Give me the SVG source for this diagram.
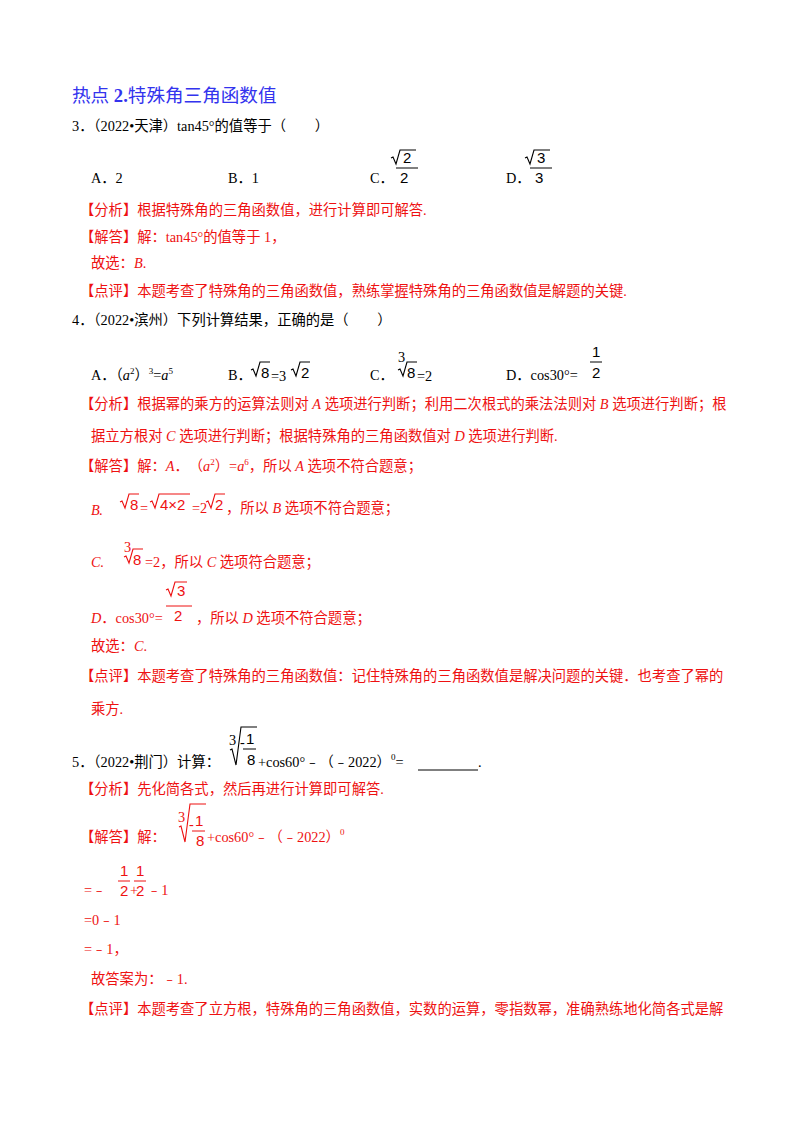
<svg xmlns="http://www.w3.org/2000/svg" width="800" height="1132" viewBox="0 0 800 1132">
<style>
text{font-family:"Liberation Serif","Noto Sans CJK SC",serif;font-size:14.3px;fill:#000}
.t{font-size:18.6px;fill:#3333ee}
.r{fill:#ee1111}
.i{font-style:italic}
.s{font-size:9px}
.f{font-family:"Liberation Sans",sans-serif;font-size:15px}
.rad{fill:none;stroke:#000;stroke-width:1.1}
.radr{fill:none;stroke:#ee1111;stroke-width:1.1}
.bar{stroke:#000;stroke-width:1}
.barr{stroke:#ee1111;stroke-width:1}
</style>
<rect width="800" height="1132" fill="#fff"/>
<text class="t" x="72" y="102">热点 <tspan font-weight="bold">2.</tspan>特殊角三角函数值</text>

<text x="72" y="131">3．（2022•天津）tan45°的值等于（　　）</text>
<text x="91" y="183">A．2</text>
<text x="228" y="183">B．1</text>
<text x="370" y="183">C．</text>
<path class="rad" d="M391 158 l2 -1 l3 7 l4 -14 h16"/><text class="f" x="403" y="163">2</text>
<line class="bar" x1="396" y1="168" x2="418" y2="168"/><text class="f" x="400" y="183">2</text>
<text x="506" y="183">D．</text>
<path class="rad" d="M525 158 l2 -1 l3 7 l4 -14 h16"/><text class="f" x="537" y="163">3</text>
<line class="bar" x1="530" y1="168" x2="552" y2="168"/><text class="f" x="535" y="183">3</text>

<text class="r" x="80" y="215">【分析】根据特殊角的三角函数值，进行计算即可解答.</text>
<text class="r" x="80" y="242">【解答】解：tan45°的值等于 1，</text>
<text class="r" x="91" y="268">故选：<tspan class="i">B</tspan>.</text>
<text class="r" x="80" y="296">【点评】本题考查了特殊角的三角函数值，熟练掌握特殊角的三角函数值是解题的关键.</text>

<text x="72" y="325">4．（2022•滨州）下列计算结果，正确的是（　　）</text>
<text x="91" y="380">A．（<tspan class="i">a</tspan><tspan class="s" dy="-6">2</tspan><tspan dy="6">）</tspan><tspan class="s" dy="-6">3</tspan><tspan dy="6">=</tspan><tspan class="i">a</tspan><tspan class="s" dy="-6">5</tspan></text>
<text x="228" y="380">B．</text>
<path class="rad" d="M251 370 l2 -1 l3 7 l4 -14 h10"/><text class="f" x="261" y="378">8</text>
<text x="271" y="381">=3</text>
<path class="rad" d="M291 370 l2 -1 l3 7 l4 -14 h10"/><text class="f" x="301" y="378">2</text>
<text x="370" y="380">C．</text>
<text x="398" y="362" font-size="9">3</text>
<path class="rad" d="M398 370 l2 -1 l3 7 l4 -14 h10"/><text class="f" x="407" y="378">8</text>
<text x="417" y="381">=2</text>
<text x="506" y="380">D．cos30°=</text>
<text class="f" x="592" y="357">1</text><line class="bar" x1="590" y1="362" x2="602" y2="362"/><text class="f" x="592" y="378">2</text>

<text class="r" x="80" y="409">【分析】根据幂的乘方的运算法则对 <tspan class="i">A</tspan> 选项进行判断；利用二次根式的乘法法则对 <tspan class="i">B</tspan> 选项进行判断；根</text>
<text class="r" x="91" y="441">据立方根对 <tspan class="i">C</tspan> 选项进行判断；根据特殊角的三角函数值对 <tspan class="i">D</tspan> 选项进行判断.</text>
<text class="r" x="80" y="471">【解答】解：<tspan class="i">A</tspan>．　（<tspan class="i">a</tspan><tspan class="s" dy="-6">2</tspan><tspan dy="6">）=</tspan><tspan class="i">a</tspan><tspan class="s" dy="-6">6</tspan><tspan dy="6">，所以 </tspan><tspan class="i">A</tspan> 选项不符合题意；</text>
<text class="r i" x="91" y="515">B</text><text class="r" x="99" y="515">.</text>
<path class="radr" d="M120 502 l2 -1 l3 7 l4 -14 h10"/><text class="r f" x="130" y="510">8</text>
<text class="r" x="140" y="513">=</text>
<path class="radr" d="M150 502 l2 -1 l3 7 l4 -14 h31"/><text class="r f" x="160" y="510">4×2</text>
<text class="r" x="192" y="513">=2</text>
<path class="radr" d="M206 502 l2 -1 l3 7 l4 -14 h10"/><text class="r f" x="215" y="510">2</text>
<text class="r" x="226" y="513">，所以 <tspan class="i">B</tspan> 选项不符合题意；</text>
<text class="r i" x="91" y="567">C.</text>
<text class="r" x="124" y="552" font-size="9">3</text>
<path class="radr" d="M124 557 l2 -1 l3 7 l4 -14 h10"/><text class="r f" x="133" y="565">8</text>
<text class="r" x="145" y="567">=2，所以 <tspan class="i">C</tspan> 选项符合题意；</text>
<path class="radr" d="M166 590 l2 -1 l3 7 l4 -14 h12"/><text class="r f" x="177" y="596">3</text>
<line class="barr" x1="166" y1="606" x2="192" y2="606"/>
<text class="r" x="91" y="623"><tspan class="i">D</tspan>．cos30°=</text><text class="r f" x="174" y="621">2</text>
<text class="r" x="196" y="623">，所以 <tspan class="i">D</tspan> 选项不符合题意；</text>
<text class="r" x="91" y="651">故选：<tspan class="i">C</tspan>.</text>
<text class="r" x="80" y="681">【点评】本题考查了特殊角的三角函数值：记住特殊角的三角函数值是解决问题的关键．也考查了幂的</text>
<text class="r" x="91" y="714">乘方.</text>

<text x="72" y="767">5．（2022•荆门）计算：</text>
<text x="229" y="745" font-size="9">3</text>
<path class="rad" d="M230 750 l2 -1 l4 16 l5 -38 h16"/><text class="f" x="246" y="744">1</text>
<text x="240" y="747" font-size="10">-</text><line class="bar" x1="243" y1="749" x2="256" y2="749"/><text class="f" x="247" y="765">8</text>
<text x="258" y="767">+cos60°﹣（﹣2022）<tspan class="s" dy="-7">0</tspan><tspan dy="7">=</tspan></text>
<line class="bar" x1="418" y1="770" x2="478" y2="770"/><text x="478" y="767">.</text>
<text class="r" x="80" y="794">【分析】先化简各式，然后再进行计算即可解答.</text>
<text class="r" x="80" y="842">【解答】解：</text>
<text class="r" x="178" y="822" font-size="9">3</text>
<path class="radr" d="M179 827 l2 -1 l4 16 l5 -38 h16"/><text class="r f" x="195" y="826">1</text>
<text class="r" x="189" y="829" font-size="10">-</text><line class="barr" x1="192" y1="831" x2="205" y2="831"/><text class="r f" x="196" y="846">8</text>
<text class="r" x="207" y="842">+cos60°﹣（﹣2022）<tspan class="s" dy="-7">0</tspan></text>
<text class="r f" x="120" y="876">1</text><line class="barr" x1="118" y1="881" x2="130" y2="881"/>
<text class="r f" x="136" y="876">1</text><line class="barr" x1="134" y1="881" x2="146" y2="881"/>
<text class="r" x="84" y="895">=﹣</text><text class="r f" x="120" y="896">2</text><text class="r" x="130" y="895">+</text><text class="r f" x="136" y="896">2</text><text class="r" x="147" y="895">﹣1</text>
<text class="r" x="84" y="925">=0﹣1</text>
<text class="r" x="84" y="954">=﹣1，</text>
<text class="r" x="91" y="984">故答案为：﹣1.</text>
<text class="r" x="80" y="1014">【点评】本题考查了立方根，特殊角的三角函数值，实数的运算，零指数幂，准确熟练地化简各式是解</text>
</svg>
